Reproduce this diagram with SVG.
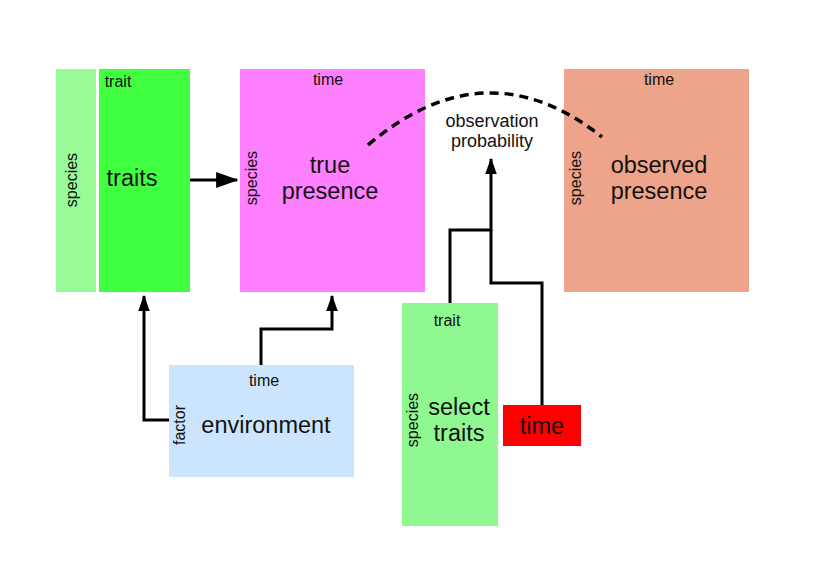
<svg xmlns="http://www.w3.org/2000/svg" width="816" height="576" viewBox="0 0 816 576">
<style>
text{font-family:"Liberation Sans",Arial,sans-serif;fill:#111;text-anchor:middle}
.s{font-size:16px}
.b{font-size:23.5px}
.m{font-size:18px}
.c{fill:none;stroke:#000;stroke-width:3}
</style>
<defs>
<marker id="ah" viewBox="0 0 14 10" refX="13" refY="5" markerWidth="5.5" markerHeight="4" orient="auto" markerUnits="strokeWidth">
<path d="M0,0 L14,5 L0,10 Z" fill="#000"/>
</marker>
<marker id="ahl" viewBox="0 0 14 10" refX="13" refY="5" markerWidth="7.5" markerHeight="5.5" orient="auto" markerUnits="strokeWidth">
<path d="M0,0 L14,5 L0,10 Z" fill="#000"/>
</marker>
</defs>
<rect width="816" height="576" fill="#fff"/>
<g id="traits">
<rect x="56" y="69" width="40" height="223" fill="#98fb98"/>
<rect x="99" y="69" width="91" height="223" fill="#40ff40"/>
<text class="s" x="118" y="87">trait</text>
<text class="b" x="132" y="186">traits</text>
<text class="s" transform="translate(77,180) rotate(-90)">species</text>
</g>
<g id="true-presence">
<rect x="240" y="69" width="185" height="223" fill="#ff80ff"/>
<text class="s" x="328" y="85">time</text>
<text class="b" x="330" y="173">true</text>
<text class="b" x="330" y="199">presence</text>
<text class="s" transform="translate(257,178) rotate(-90)">species</text>
</g>
<g id="observed-presence">
<rect x="564" y="69" width="185" height="223" fill="#eea48a"/>
<text class="s" x="659" y="85">time</text>
<text class="b" x="659" y="173">observed</text>
<text class="b" x="659" y="199">presence</text>
<text class="s" transform="translate(581,178) rotate(-90)">species</text>
</g>
<g id="observation-probability">
<text class="m" x="492" y="127">observation</text>
<text class="m" x="492" y="147">probability</text>
</g>
<g id="environment">
<rect x="169" y="365" width="185" height="112" fill="#cce5ff"/>
<text class="s" x="264" y="386">time</text>
<text class="b" x="266" y="433">environment</text>
<text class="s" transform="translate(185,425) rotate(-90)">factor</text>
</g>
<g id="select-traits">
<rect x="402" y="303" width="96" height="223" fill="#90f890"/>
<text class="s" x="447" y="326">trait</text>
<text class="b" x="459" y="415">select</text>
<text class="b" x="459" y="441">traits</text>
<text class="s" transform="translate(418,420) rotate(-90)">species</text>
</g>
<g id="time">
<rect x="503" y="405" width="78" height="41" fill="#ff0000"/>
<text class="b" x="542" y="434">time</text>
</g>
<g id="connectors">
<path class="c" d="M190,180 L237,180" marker-end="url(#ahl)"/>
<path class="c" d="M169,420 L144,420 L144,296" marker-end="url(#ah)"/>
<path class="c" d="M261,365 L261,329 L332,329 L332,296" marker-end="url(#ah)"/>
<path class="c" d="M450,303 L450,230 L491,230 L491,159" marker-end="url(#ah)"/>
<path class="c" d="M542,405 L542,283 L491,283 L491,230"/>
<path d="M368,145 Q486,45 602,137" fill="none" stroke="#000" stroke-width="3.5" stroke-dasharray="9,6"/>
</g>
</svg>
